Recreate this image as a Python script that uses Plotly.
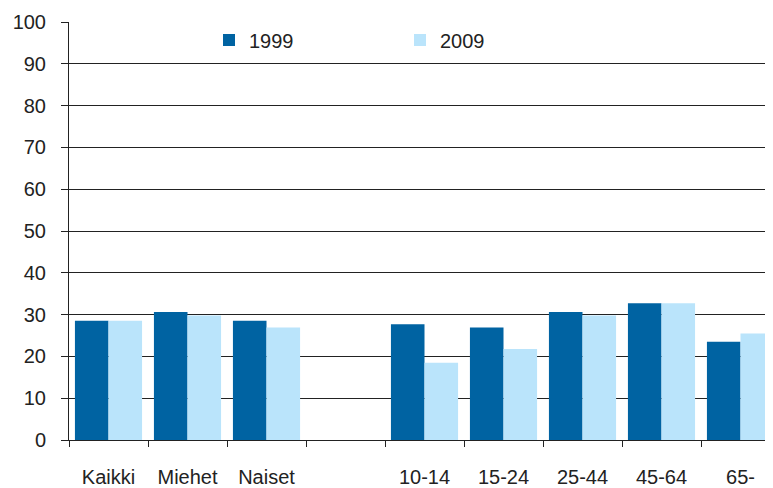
import plotly.graph_objects as go

categories = ["Kaikki", "Miehet", "Naiset", " ", "10-14", "15-24", "25-44", "45-64", "65-"]
values_1999 = [28.5, 30.6, 28.5, None, 27.7, 26.9, 30.6, 32.7, 23.5]
values_2009 = [28.5, 29.8, 26.9, None, 18.5, 21.8, 29.8, 32.7, 25.5]
y_ticks = list(range(0, 101, 10))

FONT = "Liberation Sans, Arial, sans-serif"
FS = 20

fig = go.Figure()
fig.add_trace(go.Bar(name="1999", x=categories, y=values_1999,
                     marker=dict(color="#0063A2", line=dict(width=0))))
fig.add_trace(go.Bar(name="2009", x=categories, y=values_2009,
                     marker=dict(color="#BAE4FB", line=dict(width=0))))

fig.update_layout(
    width=773, height=488,
    margin=dict(l=61, r=1, t=14, b=56, autoexpand=False),
    paper_bgcolor="white", plot_bgcolor="white",
    barmode="group", bargap=0.15, bargroupgap=0,
    font=dict(family=FONT, size=FS, color="#222"),
    showlegend=True,
    legend=dict(orientation="h", x=140 / 711, xanchor="left",
                y=400 / 418, yanchor="middle",
                entrywidth=146, entrywidthmode="pixels",
                font=dict(family=FONT, size=FS, color="#222"),
                bgcolor="rgba(0,0,0,0)", traceorder="normal"),
    xaxis=dict(type="category", categoryorder="array", categoryarray=categories,
               range=[-0.5, 8.5], tickson="boundaries", automargin=False,
               ticks="outside", ticklen=6, tickcolor="#222", tickwidth=1,
               showline=True, linecolor="#222", linewidth=1,
               showgrid=False, ticklabelstandoff=19,
               tickfont=dict(family=FONT, size=FS, color="#222")),
    yaxis=dict(range=[0, 100], tickvals=y_ticks, ticks="outside", ticklen=7,
               tickcolor="#222", tickwidth=1, automargin=False,
               showline=True, linecolor="#222", linewidth=1,
               showgrid=True, gridcolor="#222", gridwidth=1,
               zeroline=False, ticklabelstandoff=11,
               tickfont=dict(family=FONT, size=FS, color="#222")),
)

fig.write_html("out.html")
